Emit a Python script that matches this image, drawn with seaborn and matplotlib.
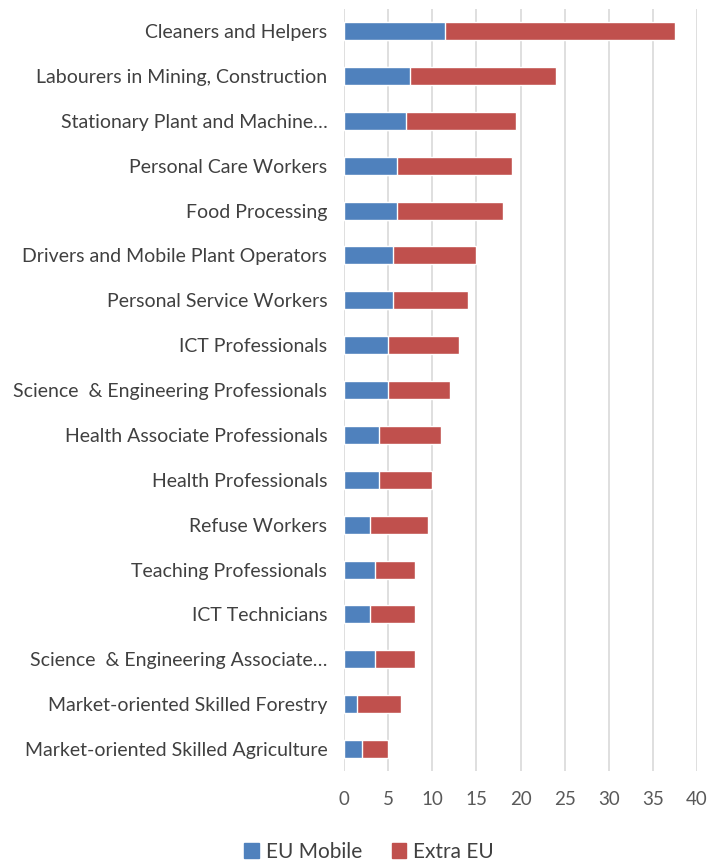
import pandas as pd
import matplotlib.pyplot as plt
import seaborn as sns
from matplotlib.patches import Patch

occupations = [
    "Cleaners and Helpers",
    "Labourers in Mining, Construction",
    "Stationary Plant and Machine\u2026",
    "Personal Care Workers",
    "Food Processing",
    "Drivers and Mobile Plant Operators",
    "Personal Service Workers",
    "ICT Professionals",
    "Science  & Engineering Professionals",
    "Health Associate Professionals",
    "Health Professionals",
    "Refuse Workers",
    "Teaching Professionals",
    "ICT Technicians",
    "Science  & Engineering Associate\u2026",
    "Market-oriented Skilled Forestry",
    "Market-oriented Skilled Agriculture",
]
eu_mobile = [11.5, 7.5, 7.0, 6.0, 6.0, 5.5, 5.5, 5.0, 5.0, 4.0, 4.0, 3.0, 3.5, 3.0, 3.5, 1.5, 2.0]
extra_eu = [26.0, 16.5, 12.5, 13.0, 12.0, 9.5, 8.5, 8.0, 7.0, 7.0, 6.0, 6.5, 4.5, 5.0, 4.5, 5.0, 3.0]

df = pd.DataFrame({"occupation": occupations, "eu_mobile": eu_mobile, "extra_eu": extra_eu})
df["total"] = df["eu_mobile"] + df["extra_eu"]

blue = "#4F81BD"
red = "#C0504D"

sns.set_theme(style="white")
plt.rcParams["font.family"] = ["Lato", "DejaVu Sans"]

fig = plt.figure(figsize=(7.1, 8.61), dpi=100)
ax = fig.add_axes([0.4845, 0.104, 0.4972, 0.886])

# stacked: draw total first (red), then EU mobile on top (blue)
sns.barplot(data=df, x="total", y="occupation", orient="h", color=red,
            width=0.4, saturation=1, ax=ax, zorder=3)
sns.barplot(data=df, x="eu_mobile", y="occupation", orient="h", color=blue,
            width=0.4, saturation=1, ax=ax, zorder=4)

ax.set_xlim(0, 40)
ax.set_xticks(range(0, 41, 5))
ax.set_ylim(len(occupations) - 0.5, -0.5)
ax.xaxis.grid(True, color="#D9D9D9", linewidth=1.2, zorder=0)
ax.set_axisbelow(True)
for s in ax.spines.values():
    s.set_visible(False)
ax.set_xlabel("")
ax.set_ylabel("")
ax.tick_params(axis="y", labelsize=14, colors="#404040", length=0, pad=12)
ax.tick_params(axis="x", labelsize=13.5, colors="#595959", length=0, pad=14)

handles = [Patch(color=blue, label="EU Mobile"), Patch(color=red, label="Extra EU")]
fig.legend(handles=handles, loc="center", bbox_to_anchor=(0.52, 0.011), ncol=2,
           frameon=False, fontsize=15, handlelength=0.7, handleheight=0.7,
           handletextpad=0.35, columnspacing=1.4, labelcolor="#404040")

plt.savefig("out.png", dpi=100)
